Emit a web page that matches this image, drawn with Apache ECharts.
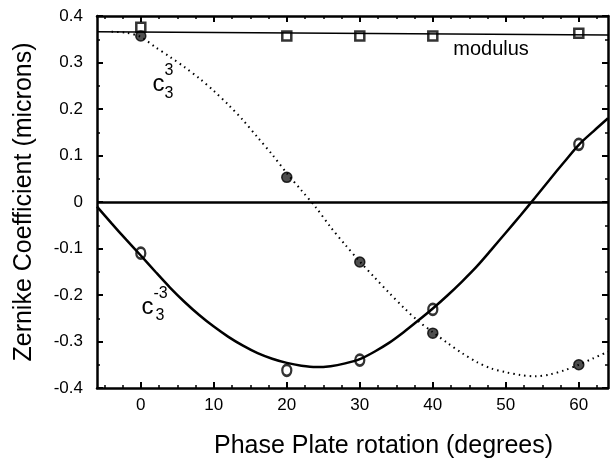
<!DOCTYPE html>
<html>
<head>
<meta charset="utf-8">
<script src="https://cdn.jsdelivr.net/npm/echarts@6/dist/echarts.min.js"></script>
<style>
  html, body { margin: 0; padding: 0; background: #fff; }
  #main { width: 611px; height: 464px; }
</style>
</head>
<body>
<div id="main"></div>
<script>
var FONT = 'Liberation Sans, Arial, Helvetica, sans-serif';

// measured points (phase plate rotation, degrees)
var xPoints = [0, 20, 30, 40, 60];
var modulusPts = [0.376, 0.357, 0.357, 0.357, 0.363];
var c33Pts = [0.357, 0.053, -0.129, -0.282, -0.350];
var c3m3Pts = [-0.110, -0.362, -0.340, -0.231, 0.124];

// fitted curves
var modulusFitX = [-6, 64];
var modulusFitY = [0.366, 0.359];

var c33CurveX = [-4, -2, 0, 2, 4, 6, 8, 10, 12, 14, 16, 18, 20, 22, 24, 26, 28, 30,
  32, 34, 36, 38, 40, 42, 44, 46, 48, 50, 52, 54, 56, 58, 60, 62, 64];
var c33CurveY = [0.366, 0.364, 0.355, 0.333, 0.312, 0.290, 0.266, 0.239, 0.209, 0.176,
  0.139, 0.102, 0.062, 0.025, -0.012, -0.054, -0.092, -0.128, -0.162, -0.195, -0.227,
  -0.256, -0.280, -0.303, -0.325, -0.344, -0.358, -0.366, -0.372, -0.375, -0.371,
  -0.362, -0.350, -0.336, -0.322];

var c3m3CurveX = [-6, -4, -2, 0, 2, 4, 6, 8, 10, 12, 14, 16, 18, 20, 22, 24, 26, 28, 30,
  32, 34, 36, 38, 40, 42, 44, 46, 48, 50, 52, 54, 56, 58, 60, 62, 64];
var c3m3CurveY = [-0.010, -0.046, -0.081, -0.115, -0.150, -0.184, -0.215, -0.243, -0.268,
  -0.290, -0.309, -0.325, -0.337, -0.346, -0.352, -0.355, -0.353, -0.347, -0.338, -0.322,
  -0.303, -0.280, -0.255, -0.229, -0.201, -0.171, -0.139, -0.103, -0.066, -0.029, 0.009,
  0.048, 0.086, 0.123, 0.152, 0.180];

// axis ticks
var xMajor = [0, 10, 20, 30, 40, 50, 60];
var xMinor = [-5, -2.5, 2.5, 5, 7.5, 12.5, 15, 17.5, 22.5, 25, 27.5, 32.5, 35, 37.5,
  42.5, 45, 47.5, 52.5, 55, 57.5, 62.5];

function pairs(xs, ys) {
  return xs.map(function (x, i) { return [x, ys[i]]; });
}

var chart = echarts.init(document.getElementById('main'));

var black = '#000';
function xAxisBase(pos) {
  return {
    type: 'value', position: pos, min: -6, max: 64,
    splitLine: { show: false },
    axisLine: { show: false, onZero: false }
  };
}

var xBottom = xAxisBase('bottom');
xBottom.axisLine = { show: true, onZero: false, lineStyle: { color: black, width: 2.5 } };
xBottom.axisTick = { show: true, inside: true, length: 6, customValues: xMajor,
  lineStyle: { color: black, width: 2 } };
xBottom.axisLabel = { show: true, customValues: xMajor, margin: 9, color: black,
  fontSize: 17, fontFamily: FONT };
xBottom.name = 'Phase Plate rotation (degrees)';
xBottom.nameLocation = 'middle';
xBottom.nameGap = 46;
xBottom.nameTextStyle = { fontSize: 25, fontFamily: FONT, color: black, padding: [0, 0, 0, 62] };

var xBottomMinor = xAxisBase('bottom');
xBottomMinor.axisTick = { show: true, inside: true, length: 3, customValues: xMinor,
  lineStyle: { color: black, width: 1.5 } };
xBottomMinor.axisLabel = { show: false };

var xTop = xAxisBase('top');
xTop.axisLine = { show: true, onZero: false, lineStyle: { color: black, width: 2.5 } };
xTop.axisTick = { show: true, inside: true, length: 6, customValues: xMajor,
  lineStyle: { color: black, width: 2 } };
xTop.axisLabel = { show: false };

var xTopMinor = xAxisBase('top');
xTopMinor.axisTick = { show: true, inside: true, length: 3, customValues: xMinor,
  lineStyle: { color: black, width: 1.5 } };
xTopMinor.axisLabel = { show: false };

function yAxisBase(pos, labels) {
  return {
    type: 'value', position: pos, min: -0.4, max: 0.4, interval: 0.1,
    splitLine: { show: false },
    axisLine: { show: true, onZero: false, lineStyle: { color: black, width: 2.5 } },
    axisTick: { show: true, inside: true, length: 6, lineStyle: { color: black, width: 2 } },
    minorTick: { show: true, splitNumber: 2, length: 3, lineStyle: { color: black, width: 1.5 } },
    axisLabel: { show: labels, margin: 14, color: black, fontSize: 17, fontFamily: FONT,
      formatter: function (v) { return Math.abs(v) < 1e-9 ? '0' : (+v).toFixed(1); } }
  };
}
var yLeft = yAxisBase('left', true);
yLeft.name = 'Zernike Coefficient (microns)';
yLeft.nameLocation = 'middle';
yLeft.nameGap = 60;
yLeft.nameTextStyle = { fontSize: 25, fontFamily: FONT, color: black };
var yRight = yAxisBase('right', false);

var option = {
  animation: false,
  backgroundColor: '#fff',
  grid: { left: 97, right: 3, top: 16, bottom: 74, containLabel: false },
  xAxis: [xBottom, xBottomMinor, xTop, xTopMinor],
  yAxis: [yLeft, yRight],
  series: [
    {
      name: 'modulus fit', type: 'line', showSymbol: false, symbol: 'none',
      data: pairs(modulusFitX, modulusFitY),
      lineStyle: { color: black, width: 1.5 },
      markLine: {
        silent: true, symbol: 'none', label: { show: false },
        lineStyle: { color: black, width: 2.5, type: 'solid' },
        data: [{ yAxis: 0 }]
      }
    },
    {
      name: 'c33 curve', type: 'line', symbol: 'none', smooth: 0.3,
      data: pairs(c33CurveX, c33CurveY),
      lineStyle: { color: black, width: 2, type: [1.5, 4] }
    },
    {
      name: 'c3-3 curve', type: 'line', symbol: 'none', smooth: 0.3,
      data: pairs(c3m3CurveX, c3m3CurveY),
      lineStyle: { color: black, width: 2.5 }
    },
    {
      name: 'modulus', type: 'scatter', symbol: 'rect', symbolSize: 9,
      data: pairs(xPoints, modulusPts),
      itemStyle: { color: '#fff', borderColor: black, borderWidth: 2.5 }
    },
    {
      name: 'c33', type: 'scatter', symbol: 'circle', symbolSize: 10,
      data: pairs(xPoints, c33Pts),
      itemStyle: { color: '#222', borderColor: black, borderWidth: 1.5 }
    },
    {
      name: 'c3-3', type: 'scatter', symbol: 'circle', symbolSize: [9, 11],
      data: pairs(xPoints, c3m3Pts),
      itemStyle: { color: '#fff', borderColor: black, borderWidth: 2.5 }
    }
  ]
};
chart.setOption(option);

// text annotations anchored in data coordinates
function px(x, y) { return chart.convertToPixel({ xAxisIndex: 0, yAxisIndex: 0 }, [x, y]); }
function txt(p, dx, dy, s, size) {
  return {
    type: 'text', x: p[0] + dx, y: p[1] + dy, z: 100,
    style: { text: s, fill: black, fontSize: size, fontFamily: FONT,
      textAlign: 'left', textVerticalAlign: 'middle' }
  };
}
var pMod = px(42.8, 0.328);
var pC33 = px(1.6, 0.252);
var pC3m3 = px(0.1, -0.226);
chart.setOption({
  graphic: [
    txt(pMod, 0, 0, 'modulus', 20),
    txt(pC33, 0, 0, 'c', 24),
    txt(pC33, 12, -14, '3', 16),
    txt(pC33, 12, 9, '3', 16),
    txt(pC3m3, 0, 0, 'c', 24),
    txt(pC3m3, 12, -13, '-3', 16),
    txt(pC3m3, 14, 9, '3', 16)
  ]
});
</script>
</body>
</html>
